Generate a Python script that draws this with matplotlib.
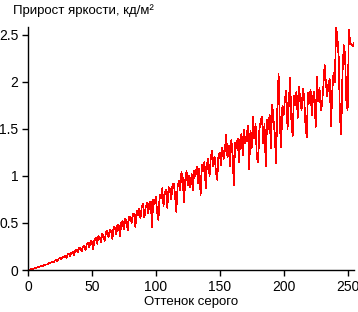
import matplotlib
matplotlib.use("Agg")
import matplotlib.pyplot as plt
import numpy as np

plt.rcParams['font.family'] = ['Liberation Sans', 'DejaVu Sans']

title_text = "Прирост яркости, кд/м²"
xlabel_text = "Оттенок серого"
x_ticks = [0, 50, 100, 150, 200, 250]
y_ticks = [0, 0.5, 1, 1.5, 2, 2.5]
y_tick_labels = ["0", "0.5", "1", "1.5", "2", "2.5"]

gray_levels = list(range(256))
brightness_gain = [
    0, 0.003, 0.007, 0.01, 0.014, 0.016, 0.022, 0.025, 0.03, 0.036, 0.04, 0.047, 0.045, 0.055, 0.06, 0.058,
    0.07, 0.075, 0.08, 0.092, 0.085, 0.1, 0.105, 0.095, 0.12, 0.128, 0.115, 0.14, 0.135, 0.15, 0.13, 0.165,
    0.17, 0.15, 0.185, 0.19, 0.16, 0.205, 0.215, 0.185, 0.24, 0.23, 0.2, 0.25, 0.26, 0.21, 0.28, 0.29,
    0.24, 0.31, 0.3, 0.22, 0.33, 0.34, 0.28, 0.36, 0.35, 0.3, 0.38, 0.37, 0.31, 0.4, 0.42, 0.35,
    0.43, 0.41, 0.33, 0.46, 0.45, 0.38, 0.48, 0.47, 0.36, 0.5, 0.52, 0.43, 0.54, 0.53, 0.42, 0.56,
    0.57, 0.5, 0.59, 0.6, 0.46, 0.63, 0.58, 0.65, 0.55, 0.68, 0.7, 0.56, 0.66, 0.71, 0.6, 0.72,
    0.73, 0.46, 0.75, 0.7, 0.78, 0.62, 0.53, 0.8, 0.76, 0.87, 0.68, 0.82, 0.85, 0.66, 0.88, 0.86,
    0.75, 0.9, 0.92, 0.8, 0.62, 0.88, 0.95, 0.85, 1.04, 0.98, 0.72, 0.96, 1.05, 0.9, 1.0, 0.88,
    1.02, 0.85, 1.06, 1.0, 1.1, 0.92, 1.08, 0.8, 1.12, 1.05, 1.15, 0.87, 1.13, 1.18, 1.0, 1.2,
    1.27, 1.1, 1.2, 1.05, 0.96, 1.22, 1.25, 1.12, 1.3, 1.18, 1.28, 1.44, 1.2, 1.32, 1.1, 1.38,
    1.25, 0.9, 1.35, 1.3, 1.4, 1.15, 1.38, 1.45, 1.22, 1.49, 1.35, 1.42, 1.53, 1.07, 1.48, 1.3,
    1.63, 1.4, 1.55, 1.2, 1.15, 1.5, 1.58, 1.63, 1.35, 1.55, 1.1, 1.6, 1.5, 1.65, 1.3, 1.76,
    1.6, 1.45, 1.14, 1.7, 2.09, 1.55, 1.31, 1.75, 1.65, 1.82, 1.91, 1.5, 1.78, 2.04, 1.6, 1.42,
    1.85, 1.75, 1.9, 1.62, 1.95, 1.8, 1.7, 1.93, 1.85, 1.55, 1.41, 1.88, 1.78, 1.92, 1.65, 1.85,
    1.9, 1.52, 2.06, 1.8, 1.94, 1.7, 1.76, 1.95, 2.18, 2.0, 1.85, 1.98, 2.03, 1.53, 1.9, 2.1,
    2.0, 2.585, 2.47, 2.27, 1.63, 1.44, 2.1, 2.39, 2.3, 1.8, 1.7, 2.55, 2.42, 2.4, 2.38, 2.41,
]

fig = plt.figure(figsize=(3.58, 3.12), dpi=100)
ax = fig.add_axes([28/358, 42/312, (354-28)/358, (270-27)/312])
ax.plot(gray_levels, brightness_gain, color="#ff0000", lw=0.5, antialiased=False)
ax.set_xlim(0, 255)
ax.set_ylim(0, 2.585)
ax.set_xticks(x_ticks)
ax.set_yticks(y_ticks)
ax.set_yticklabels(y_tick_labels)
for s in ["top", "right"]:
    ax.spines[s].set_visible(False)
for s in ["left", "bottom"]:
    ax.spines[s].set_linewidth(1.0)
ax.tick_params(direction="out", length=4, width=1.0, labelsize=10, pad=3)
ax.set_xlabel(xlabel_text, fontsize=9.5, labelpad=2)
fig.text(13/358, 1 - 11/312, title_text, fontsize=9.5, ha="left", va="center")
fig.savefig("out.png", dpi=100)
